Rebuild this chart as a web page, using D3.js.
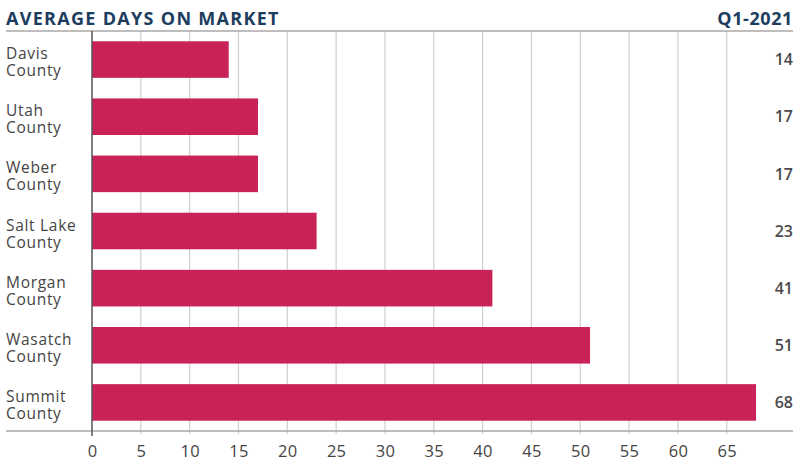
<!DOCTYPE html>
<html><head><meta charset="utf-8">
<script src="https://cdn.jsdelivr.net/npm/d3@7"></script>
<style>body{margin:0;background:#fff}svg{display:block}</style>
</head><body><svg id="c" width="800" height="470"></svg>
<script>
const categories = ["Davis County","Utah County","Weber County","Salt Lake County","Morgan County","Wasatch County","Summit County"];
const labelLines = [["Davis","County"],["Utah","County"],["Weber","County"],["Salt Lake","County"],["Morgan","County"],["Wasatch","County"],["Summit","County"]];
const values = [14,17,17,23,41,51,68];
const xTicks = [0,5,10,15,20,25,30,35,40,45,50,55,60,65];
const title = "AVERAGE DAYS ON MARKET";
const period = "Q1-2021";

(function(){
const svg = d3.select("#c");
const font = "'Open Sans', sans-serif";
const pL = 92, pR = 92 + 9.765*68, pT = 31, pB = 431;
const x = d3.scaleLinear().domain([0,68]).range([pL, pR]);
const y = d3.scaleBand().domain(categories).range([pT, pB]).paddingInner(0.36).paddingOuter(0.18);

svg.append("g").selectAll("line").data(xTicks.filter(d=>d>0)).join("line")
  .attr("x1",d=>x(d)).attr("x2",d=>x(d)).attr("y1",pT).attr("y2",pB+3)
  .attr("stroke","#cfcfcf").attr("stroke-width",1.2);

[pT,pB].forEach(yy=>svg.append("line").attr("x1",6).attr("x2",793).attr("y1",yy).attr("y2",yy)
  .attr("stroke","#a8a8a8").attr("stroke-width",1.5));

svg.append("g").selectAll("rect").data(values).join("rect")
  .attr("x",x(0)).attr("y",(d,i)=>y(categories[i])).attr("width",d=>x(d)-x(0))
  .attr("height",y.bandwidth()).attr("fill","#c92257");

svg.append("line").attr("x1",pL).attr("x2",pL).attr("y1",pT).attr("y2",pB+5)
  .attr("stroke","#555").attr("stroke-width",1.5);

const ax = svg.append("g").attr("transform",`translate(0,${pB})`)
  .call(d3.axisBottom(x).tickValues(xTicks).tickSize(0).tickPadding(14));
ax.select(".domain").remove();
ax.selectAll("text").attr("font-family",font).attr("font-size",16.5).attr("letter-spacing",0.3).attr("fill","#444");

const g = svg.append("g");
labelLines.forEach((d,i)=>{
  const cy = y(categories[i])+y.bandwidth()/2;
  g.append("text").attr("x",6).attr("y",cy-0.5).attr("font-family",font).attr("font-size",15.5)
    .attr("letter-spacing",0.7).attr("fill","#444").text(d[0]);
  g.append("text").attr("x",6).attr("y",cy+16.5).attr("font-family",font).attr("font-size",15.5)
    .attr("letter-spacing",0.7).attr("fill","#444").text(d[1]);
});

svg.append("g").selectAll("text").data(values).join("text")
  .attr("x",793).attr("y",(d,i)=>y(categories[i])+y.bandwidth()/2)
  .attr("dy","0.36em").attr("text-anchor","end")
  .attr("font-family",font).attr("font-size",16).attr("font-weight",600).attr("fill","#4a4a4a")
  .text(d=>d);

svg.append("text").attr("x",6).attr("y",25).attr("font-family",font).attr("font-weight",700)
  .attr("font-size",18).attr("letter-spacing",1.3).attr("fill","#1c3d5e").text(title);
svg.append("text").attr("x",793).attr("y",25).attr("text-anchor","end").attr("font-family",font).attr("font-weight",700)
  .attr("font-size",18).attr("letter-spacing",0.6).attr("fill","#1c3d5e").text(period);
})();
</script></body></html>
